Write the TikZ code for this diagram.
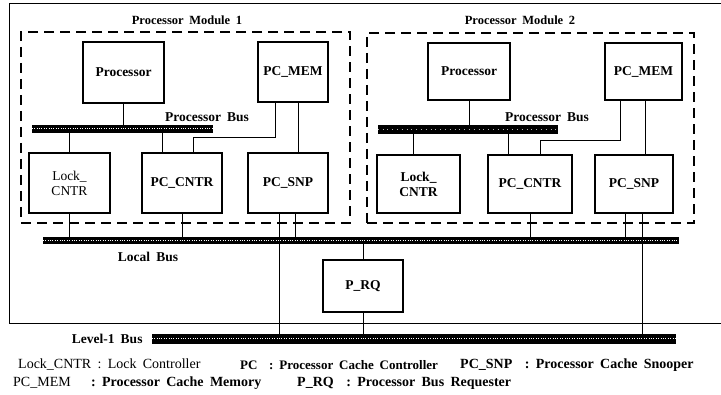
\documentclass[tikz,border=0pt]{standalone}
\usepackage{fontspec}
\setmainfont[WordSpace=1.8]{Liberation Serif}
\usepackage{tikz}
\usetikzlibrary{positioning,calc}

\begin{document}
\begin{tikzpicture}[
  x=1pt,y=-1pt,
  unit/.style={draw,line width=1.1pt,inner sep=1pt,align=center,font=\fontsize{13.5}{14}\selectfont\bfseries},
  module/.style={draw,line width=1.1pt,dash pattern=on 10pt off 6pt,minimum width=#1},
  bus/.style={draw,fill=black,line width=0.6pt,inner sep=0pt},
  lbl/.style={inner sep=1pt,font=\fontsize{13.5}{14}\selectfont\bfseries},
  legend/.style={anchor=west,inner sep=0pt,font=\fontsize{14}{15}\selectfont},
  wire/.style={line width=0.9pt}
]
\useasboundingbox (0,0) rectangle (721,395);

\draw[line width=0.8pt] (721,3) -- (9,3) -- (9,323) -- (721,323);

\node[module=329pt,minimum height=191pt] (mod1) at (185.5,127.5) {};
\node[module=327pt,minimum height=190pt] (mod2) at (530.5,128) {};
\node[lbl,font=\fontsize{12.5}{13}\selectfont\bfseries] (title1) at (187,20) {Processor Module 1};
\node[lbl,font=\fontsize{12.5}{13}\selectfont\bfseries] (title2) at (520,20) {Processor Module 2};

\node[unit,minimum width=81pt,minimum height=61pt] (proc1) at (123.5,72.5) {Processor};
\node[unit,minimum width=70pt,minimum height=60pt] (mem1) at (293,72) {PC\_MEM};
\node[unit,minimum width=81pt,minimum height=60pt,font=\fontsize{13.5}{15}\selectfont] (lock1) at (69.5,183) {Lock\_\\CNTR};
\node[unit,minimum width=80pt,minimum height=60pt] (cntr1) at (182,183) {PC\_CNTR};
\node[unit,minimum width=80pt,minimum height=60pt] (snp1) at (288,183) {PC\_SNP};

\node[unit,minimum width=82pt,minimum height=57pt] (proc2) at (469,71.5) {Processor};
\node[unit,minimum width=77pt,minimum height=57pt] (mem2) at (643.5,71.5) {PC\_MEM};
\node[unit,minimum width=83pt,minimum height=58pt,font=\fontsize{13.5}{15}\selectfont\bfseries] (lock2) at (418.5,184) {Lock\_\\CNTR};
\node[unit,minimum width=84pt,minimum height=58pt] (cntr2) at (530,184) {PC\_CNTR};
\node[unit,minimum width=78pt,minimum height=58pt] (snp2) at (634,184) {PC\_SNP};

\node[unit,minimum width=80pt,minimum height=52pt] (prq) at (363,286) {P\_RQ};

\node[bus,minimum width=180pt,minimum height=7pt] (pbus1) at (122,128.5) {};
\node[bus,minimum width=179pt,minimum height=8pt] (pbus2) at (467.5,129) {};
\node[bus,minimum width=635pt,minimum height=6pt] (lbus) at (360.5,240) {};
\node[bus,minimum width=523pt,minimum height=9pt] (l1bus) at (413.5,338.5) {};
\foreach \b in {pbus1,lbus,l1bus}
  \draw[white,line width=0.8pt,dash pattern=on 1pt off 1.4pt] (\b.west) -- (\b.east);
\draw[white!70!black,line width=0.5pt,dash pattern=on 0.8pt off 4pt] (pbus2.west) -- (pbus2.east);

\node[lbl] (pbuslbl1) at (207,117) {Processor Bus};
\node[lbl] (pbuslbl2) at (547,117) {Processor Bus};
\node[lbl] (lbuslbl) at (148,257) {Local Bus};
\node[lbl,left=8pt of l1bus] (l1buslbl) {Level-1 Bus};

\draw[wire] (proc1.south) -- (proc1.south |- pbus1.north);
\draw[wire] (lock1.north) -- (lock1.north |- pbus1.south);
\draw[wire] ([xshift=-20pt]cntr1.north) -- ([xshift=-20pt]cntr1.north |- pbus1.south);
\draw[wire] ([xshift=-18pt]mem1.south) -- ++(0,35) -| ([xshift=11pt]cntr1.north);
\draw[wire] ([xshift=5pt]mem1.south) -- ([xshift=5pt]mem1.south |- snp1.north);
\draw[wire] (lock1.south) -- (lock1.south |- lbus.north);
\draw[wire] (cntr1.south) -- (cntr1.south |- lbus.north);
\draw[wire] ([xshift=7pt]snp1.south) -- ([xshift=7pt]snp1.south |- lbus.north);
\draw[wire] ([xshift=-9pt]snp1.south) -- ([xshift=-9pt]snp1.south |- l1bus.north);

\draw[wire] (proc2.south) -- (proc2.south |- pbus2.north);
\draw[wire] ([xshift=-5pt]lock2.north) -- ([xshift=-5pt]lock2.north |- pbus2.south);
\draw[wire] ([xshift=-22pt]cntr2.north) -- ([xshift=-22pt]cntr2.north |- pbus2.south);
\draw[wire] ([xshift=-23pt]mem2.south) -- ++(0,40) -| ([xshift=10pt]cntr2.north);
\draw[wire] ([xshift=1.5pt]mem2.south) -- ([xshift=1.5pt]mem2.south |- snp2.north);
\draw[wire] (cntr2.south) -- (cntr2.south |- lbus.north);
\draw[wire] ([xshift=-9pt]snp2.south) -- ([xshift=-9pt]snp2.south |- lbus.north);
\draw[wire] ([xshift=8pt]snp2.south) -- ([xshift=8pt]snp2.south |- l1bus.north);

\draw[wire] (prq.north) -- (prq.north |- lbus.south);
\draw[wire] (prq.south) -- (prq.south |- l1bus.north);

\node[legend] (key1) at (18,365) {Lock\_CNTR : Lock Controller};
\node[legend,font=\fontsize{13}{15}\selectfont\bfseries] (key2) at (240,365) {PC \ : Processor Cache Controller};
\node[legend,font=\fontsize{14}{15}\selectfont\bfseries] (key3) at (460,365) {PC\_SNP \ : Processor Cache Snooper};
\node[legend] (key4) at (13,383) {PC\_MEM \quad \textbf{: Processor Cache Memory}};
\node[legend,font=\fontsize{14}{15}\selectfont\bfseries] (key5) at (297,383) {P\_RQ \ : Processor Bus Requester};
\end{tikzpicture}
\end{document}
